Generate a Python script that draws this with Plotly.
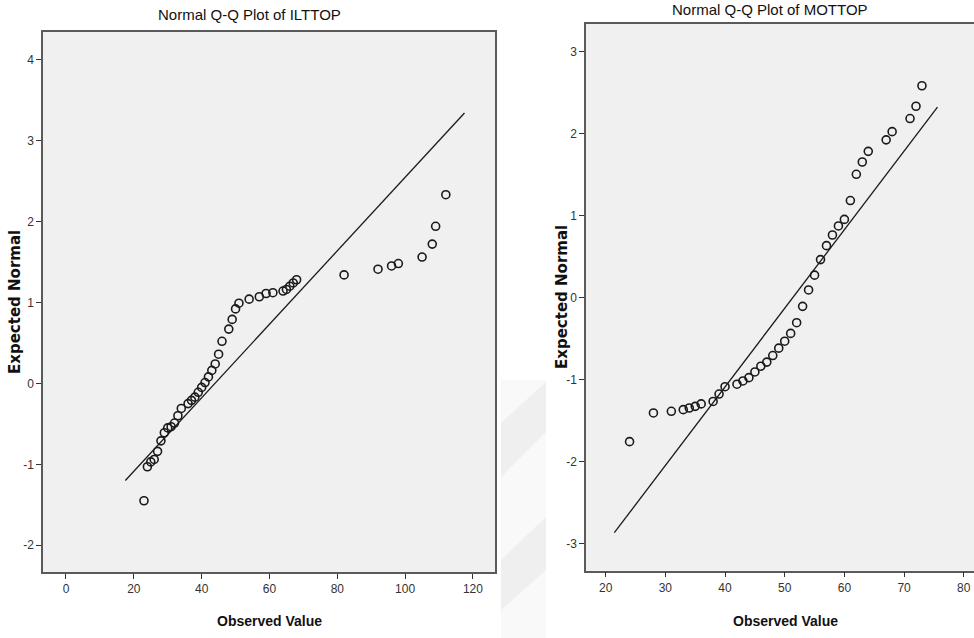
import plotly.graph_objects as go

# ---- Data: Normal Q-Q plot of ILTTOP ----
ilt_observed = [23, 24, 25, 26, 27, 28, 29, 30, 31, 32, 33, 34, 36, 37, 38, 39, 40, 41, 42, 43,
                44, 45, 46, 48, 49, 50, 51, 54, 57, 59, 61, 64, 65, 66, 67, 68, 82, 92, 96, 98,
                105, 108, 109, 112]
ilt_expected = [-1.45, -1.03, -0.97, -0.94, -0.84, -0.71, -0.61, -0.55, -0.535, -0.49, -0.40, -0.31,
                -0.25, -0.21, -0.17, -0.11, -0.05, 0.01, 0.08, 0.16, 0.24, 0.36, 0.52, 0.67,
                0.79, 0.92, 0.99, 1.04, 1.07, 1.11, 1.12, 1.14, 1.16, 1.20, 1.24, 1.28, 1.34,
                1.41, 1.45, 1.48, 1.56, 1.72, 1.94, 2.33]
ilt_line_x = [17.5, 117.5]
ilt_line_y = [-1.20, 3.34]

# ---- Data: Normal Q-Q plot of MOTTOP ----
mot_observed = [24, 28, 31, 33, 34, 35, 36, 38, 39, 40, 42, 43, 44, 45, 46, 47, 48, 49, 50, 51,
                52, 53, 54, 55, 56, 57, 58, 59, 60, 61, 62, 63, 64, 67, 68, 71, 72, 73]
mot_expected = [-1.76, -1.41, -1.39, -1.37, -1.35, -1.33, -1.30, -1.27, -1.18, -1.09, -1.06, -1.02,
                -0.98, -0.91, -0.84, -0.79, -0.71, -0.62, -0.535, -0.44, -0.31, -0.11, 0.09, 0.27,
                0.46, 0.63, 0.76, 0.87, 0.95, 1.18, 1.50, 1.65, 1.78, 1.92, 2.02, 2.18, 2.33, 2.58]
mot_line_x = [21.45, 75.6]
mot_line_y = [-2.87, 2.32]

ilt_xticks = [0, 20, 40, 60, 80, 100, 120]
ilt_yticks = [-2, -1, 0, 1, 2, 3, 4]
mot_xticks = [20, 30, 40, 50, 60, 70, 80]
mot_yticks = [-3, -2, -1, 0, 1, 2, 3]

titles = ["Normal Q-Q Plot of ILTTOP", "Normal Q-Q Plot of MOTTOP"]
x_title = "Observed Value"
y_title = "Expected Normal"

W, H = 974, 638
NARROW = "Liberation Sans Narrow, Arial Narrow, Liberation Sans, Arial, sans-serif"

fig = go.Figure()

marker = dict(symbol="circle-open", size=8, color="#1a1a1a", line=dict(width=1.6, color="#1a1a1a"))

fig.add_trace(go.Scatter(x=ilt_line_x, y=ilt_line_y, mode="lines",
                         line=dict(color="#1a1a1a", width=1.3), xaxis="x", yaxis="y",
                         hoverinfo="skip", showlegend=False))
fig.add_trace(go.Scatter(x=ilt_observed, y=ilt_expected, mode="markers", marker=marker,
                         xaxis="x", yaxis="y", showlegend=False))
fig.add_trace(go.Scatter(x=mot_line_x, y=mot_line_y, mode="lines",
                         line=dict(color="#1a1a1a", width=1.3), xaxis="x2", yaxis="y2",
                         hoverinfo="skip", showlegend=False))
fig.add_trace(go.Scatter(x=mot_observed, y=mot_expected, mode="markers", marker=marker,
                         xaxis="x2", yaxis="y2", showlegend=False))

def px(x):
    return x / W

def py(y):
    return 1 - y / H

def labels(vals):
    return [str(v) for v in vals]

axis_common = dict(showgrid=False, zeroline=False, ticks="outside", ticklen=5, tickwidth=1,
                   tickcolor="#333", linecolor="#5a5a5a", linewidth=1.5,
                   tickfont=dict(family=NARROW, size=12, color="#333"))

fig.update_layout(
    width=W, height=H,
    margin=dict(l=0, r=0, t=0, b=0, autoexpand=False),
    paper_bgcolor="white",
    plot_bgcolor="#f0f0f0",
    xaxis=dict(domain=[px(43), px(495)], range=[-6.78, 126.5], tickvals=ilt_xticks,
               ticktext=labels(ilt_xticks), anchor="y", mirror=True, **axis_common),
    yaxis=dict(domain=[py(572), py(32)], range=[-2.33, 4.34], tickvals=ilt_yticks,
               ticktext=labels(ilt_yticks), anchor="x", mirror=True, **axis_common),
    xaxis2=dict(domain=[px(586), 1.0], range=[16.70, 81.72], tickvals=mot_xticks,
                ticktext=labels(mot_xticks), anchor="y2", mirror=True, **axis_common),
    yaxis2=dict(domain=[py(570.7), py(24)], range=[-3.334, 3.333], tickvals=mot_yticks,
                ticktext=labels(mot_yticks), anchor="x2", mirror=False, **axis_common),
)

annotations = [
    dict(text=titles[0], x=px(250), y=py(15), font=dict(family=NARROW, size=15, color="#111")),
    dict(text=titles[1], x=px(770), y=py(9), font=dict(family=NARROW, size=15, color="#111")),
    dict(text="<b>" + x_title + "</b>", x=px(269), y=py(621), font=dict(family=NARROW, size=14, color="#111")),
    dict(text="<b>" + x_title + "</b>", x=px(785), y=py(621), font=dict(family=NARROW, size=14, color="#111")),
    dict(text="<b>" + y_title + "</b>", x=px(15), y=py(302), textangle=-90,
         font=dict(family="DejaVu Sans", size=15, color="#111")),
    dict(text="<b>" + y_title + "</b>", x=px(562), y=py(297), textangle=-90,
         font=dict(family="DejaVu Sans", size=15, color="#111")),
]
for a in annotations:
    a.update(xref="paper", yref="paper", showarrow=False, xanchor="center", yanchor="middle")
fig.update_layout(annotations=annotations)

# faint watermark stripes between the panels
def path(pts):
    return "M " + " L ".join(f"{px(x)},{py(y)}" for x, y in pts) + " Z"

shapes = [
    dict(type="rect", xref="paper", yref="paper", x0=px(501), x1=px(546), y0=py(638), y1=py(380),
         fillcolor="#f9f9f9", line=dict(width=0), layer="below"),
    dict(type="path", xref="paper", yref="paper",
         path=path([(546, 382), (546, 432), (501, 477), (501, 423)]),
         fillcolor="#efefef", line=dict(width=0), layer="below"),
    dict(type="path", xref="paper", yref="paper",
         path=path([(546, 517), (546, 570), (501, 610), (501, 560)]),
         fillcolor="#efefef", line=dict(width=0), layer="below"),
]
fig.update_layout(shapes=shapes)

fig.write_html("out.html", config={"displayModeBar": False},
               post_script="document.body.style.margin='0';document.body.style.overflow='hidden';")
